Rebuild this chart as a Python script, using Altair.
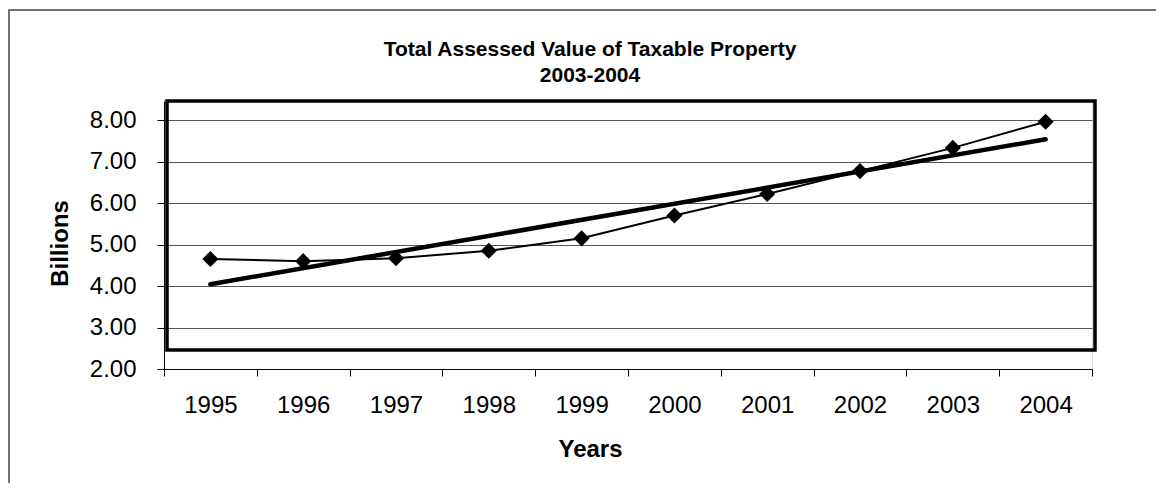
import altair as alt
import pandas as pd

years = [1995, 1996, 1997, 1998, 1999, 2000, 2001, 2002, 2003, 2004]
values = [4.65, 4.60, 4.67, 4.85, 5.15, 5.70, 6.22, 6.77, 7.33, 7.96]
y_ticks = [2, 3, 4, 5, 6, 7, 8]
x_boundaries = [1994.5, 1995.5, 1996.5, 1997.5, 1998.5, 1999.5, 2000.5,
                2001.5, 2002.5, 2003.5, 2004.5]
title_line1 = "Total Assessed Value of Taxable Property"
title_line2 = "2003-2004"

df = pd.DataFrame({"year": years, "value": values})
one = pd.DataFrame({"k": [0]})

W, H = 928, 268
FONT = "Liberation Sans"

x_scale = alt.Scale(domain=[1994.5, 2004.5], nice=False, zero=False)
y_scale = alt.Scale(domain=[2, 8.46], nice=False, zero=False)

x_axis = alt.Axis(
    values=x_boundaries,
    labelExpr="datum.value < 2004 ? format(datum.value + 0.5, 'd') : ''",
    labelOffset=W / 20,
    labelFontSize=24, labelFont=FONT, labelColor="black",
    labelPadding=17, labelOverlap=False, labelFlush=False, labelBound=False,
    tickSize=7, tickColor="black", domainColor="black",
    grid=False,
    title="Years", titleFont=FONT, titleFontSize=24, titleFontWeight="bold",
    titleColor="black", titlePadding=20, titleX=426, titleAlign="center",
    titleAnchor="start",
)
y_axis = alt.Axis(
    values=y_ticks, format=".2f",
    labelFontSize=24, labelFont=FONT, labelColor="black", labelPadding=21,
    tickSize=7, tickColor="black", domainColor="black",
    grid=True, gridColor="#555555", gridWidth=1,
    title="Billions", titleFont=FONT, titleFontSize=24, titleFontWeight="bold",
    titleColor="black", titleX=-104, titleY=142, titleAlign="center",
    titleBaseline="middle", titleAngle=-90,
)

base = alt.Chart(df)

outer = alt.Chart(one).mark_rect(fill=None, stroke="#444444", strokeWidth=1.5).encode(
    x=alt.value(-155), x2=alt.value(1100), y=alt.value(-91), y2=alt.value(500)
)

frame = alt.Chart(one).mark_rect(fill=None, stroke="black", strokeWidth=3.5).encode(
    x=alt.value(3), x2=alt.value(931), y=alt.value(0), y2=alt.value(249)
)

t1 = alt.Chart(one).mark_text(
    text=title_line1, font=FONT, fontSize=21, fontWeight="bold", color="black",
    align="center", baseline="middle",
).encode(x=alt.value(426), y=alt.value(-51))
t2 = alt.Chart(one).mark_text(
    text=title_line2, font=FONT, fontSize=21, fontWeight="bold", color="black",
    align="center", baseline="middle",
).encode(x=alt.value(426), y=alt.value(-25))

trend = base.transform_regression("year", "value").mark_line(
    color="black", strokeWidth=4.5, strokeCap="round"
).encode(
    x=alt.X("year:Q", scale=x_scale, axis=x_axis),
    y=alt.Y("value:Q", scale=y_scale, axis=y_axis),
)

line = base.mark_line(color="black", strokeWidth=2).encode(
    x=alt.X("year:Q", scale=x_scale, axis=x_axis),
    y=alt.Y("value:Q", scale=y_scale, axis=y_axis),
)

points = base.mark_point(shape="diamond", filled=True, color="black", size=260, opacity=1).encode(
    x=alt.X("year:Q", scale=x_scale, axis=x_axis),
    y=alt.Y("value:Q", scale=y_scale, axis=y_axis),
)

chart = alt.layer(outer, trend, line, points, frame, t1, t2).properties(
    width=W, height=H,
    autosize=alt.AutoSizeParams(type="none"),
    padding={"left": 156, "top": 93, "right": 64, "bottom": 114},
).configure_view(stroke=None).configure(background="white")

chart.save("out.html", embed_options={"renderer": "svg", "actions": False})
